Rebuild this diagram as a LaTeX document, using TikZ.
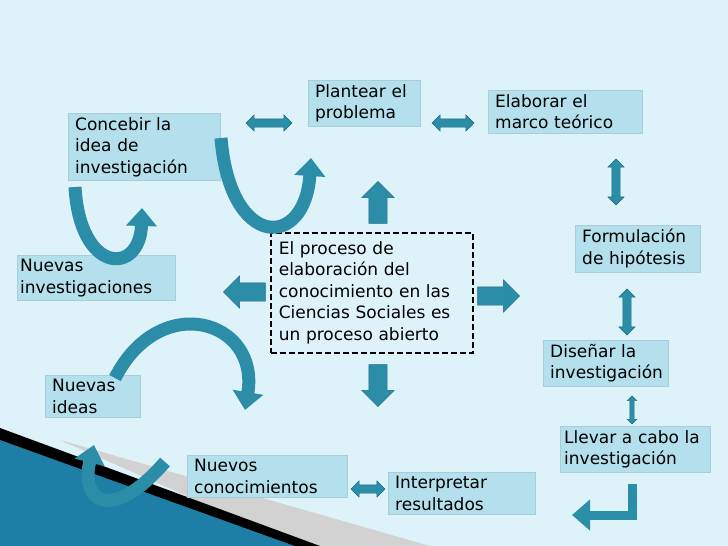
\documentclass[tikz,border=0pt]{standalone}
\usepackage{fontspec}
\setmainfont{DejaVu Sans}
\usetikzlibrary{shapes.arrows,arrows.meta,positioning}
\definecolor{bgblue}{HTML}{DDF3F9}
\definecolor{boxblue}{HTML}{B3E0EC}
\definecolor{arrowblue}{HTML}{2C8DA8}
\definecolor{arrowdark}{HTML}{1D6A80}
\definecolor{swoosh}{HTML}{1E7FA6}

\begin{document}
\begin{tikzpicture}[%
    ,x=1pt,y=-1pt
    ,font=\fontsize{17}{21.5}\selectfont
    ,box/.style = {%
        ,fill=boxblue, draw=boxblue!80!gray
        ,anchor=north west, align=left
        ,inner xsep=7pt, inner ysep=4pt
        }
    ,dbl/.style = {%
        ,double arrow, fill=arrowblue, draw=arrowdark
        ,inner xsep=0pt, inner ysep=4pt
        ,double arrow head extend=4pt
        }
    ,blk/.style = {%
        ,single arrow, fill=arrowblue, draw=arrowdark
        ,inner xsep=0pt, inner ysep=9pt
        ,single arrow head extend=7pt
        ,minimum height=42pt
        }
    ,curv/.style = {%
        ,draw=arrowblue, line width=13pt
        ,-{Triangle[width=30pt,length=18pt]}
        }
    ]
\useasboundingbox[fill=bgblue] (0,0) rectangle (728,546);

% bottom left swoosh
\fill[gray!35] (60,440) -- (430,546) -- (300,546) -- cycle;
\fill[swoosh] (0,440) -- (300,546) -- (0,546) -- cycle;
\fill[black] (0,428) -- (320,546) -- (295,546) -- (0,440) -- cycle;

% boxes
\node (pp) [box, text width=98pt] at (308,80) {Plantear el\\problema};
\node (mt) [box, text width=140pt] at (488,90) {Elaborar el\\marco teórico};
\node (ci) [box, text width=138pt] at (68,113) {Concebir la\\idea de\\investigación};
\node (fh) [box, text width=111pt] at (575,225) {Formulación\\de hipótesis};
\node (ni) [box, inner xsep=3pt, text width=152pt] at (17,255) {Nuevas\\investigaciones};
\node (cen) [box, fill=none, draw=black, line width=1.6pt, dash pattern=on 6pt off 3pt,
    inner xsep=8pt, text width=186pt, minimum height=120pt] at (270,232)
    {El proceso de\\elaboración del\\conocimiento en las\\Ciencias Sociales es\\un proceso abierto};
\node (di) [box, text width=111pt] at (543,340) {Diseñar la\\investigación};
\node (nid) [box, text width=81pt] at (45,375) {Nuevas\\ideas};
\node (lc) [box, inner xsep=4pt, text width=142pt] at (560,426) {Llevar a cabo la\\investigación};
\node (nc) [box, text width=146pt] at (187,455) {Nuevos\\conocimientos};
\node (ir) [box, text width=133pt] at (388,472) {Interpretar\\resultados};

% double arrows between boxes
\node (d1) [dbl, minimum height=46pt] at (269,123) {};
\node (d2) [dbl, minimum height=42pt] at (453,123) {};
\node (d3) [dbl, minimum height=34pt] at (368,489) {};
\node (d4) [dbl, rotate=90, minimum height=46pt] at (616,182) {};
\node (d5) [dbl, rotate=90, minimum height=46pt] at (627,312) {};
\node (d6) [dbl, rotate=90, minimum height=28pt, inner ysep=2pt,
    double arrow head extend=2.5pt] at (632,410) {};

% block arrows out of the centre
\node (bu) [blk, rotate=90] at (378,207) {};
\node (bl) [blk, rotate=180] at (249,292) {};
\node (br) [blk] at (494,296) {};
\node (bd) [blk, rotate=-90] at (378,381) {};

% curved arrows
\draw[curv] (75,187) .. controls (80,275) and (140,275) .. (142,208);
\draw[curv] (221,138) .. controls (230,250) and (305,250) .. (311,158);
\draw[curv] (115,378) .. controls (160,290) and (260,320) .. (245,410);
\draw[curv] (165,462) .. controls (110,525) and (80,500) .. (94,445);
\draw[curv, line width=9pt] (632,484) |- (572,515);
\end{tikzpicture}
\end{document}
